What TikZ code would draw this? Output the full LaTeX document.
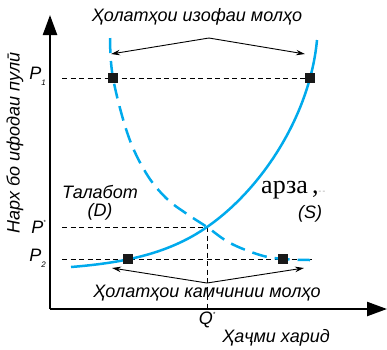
\documentclass[tikz,border=0pt]{standalone}
\usepackage{fontspec}
\setmainfont{Liberation Sans}
\newfontfamily\serifcyr{Liberation Serif}
\usetikzlibrary{arrows.meta}
\definecolor{curveblue}{RGB}{0,170,236}
\begin{document}
\begin{tikzpicture}[x=1pt,y=-1pt,
  lbl/.style={font=\itshape\fontsize{18}{18}\selectfont, inner sep=0pt},
  plbl/.style={font=\itshape\fontsize{18}{18}\selectfont, inner sep=0pt},
  sq/.style={fill=black!90, minimum size=10.5pt, inner sep=0pt},
  guide/.style={dash pattern=on 5pt off 3.5pt, line width=0.8pt},
  axis/.style={line width=2.4pt, -{Triangle[length=20pt,width=14pt]}},
  ptr/.style={line width=0.9pt, -{Stealth[length=9pt,width=5.5pt]}},
  supply/.style={curveblue, line width=2.5pt},
  demand/.style={curveblue, line width=2.5pt, dash pattern=on 15pt off 8pt},
]
\useasboundingbox (0,0) rectangle (387,349);
% axes
\coordinate (O) at (50,309);
\coordinate (ytip) at (50,15);
\coordinate (xtip) at (387,309);
\draw[axis] (O) -- (ytip);
\draw[axis] (O) -- (xtip);
% key positions
\coordinate (a1) at (113,78);
\coordinate (b1) at (310,78);
\coordinate (a2) at (128,259);
\coordinate (b2) at (283,259);
\coordinate (e) at (207,227);
\coordinate (p1s) at (62,78);
\coordinate (pss) at (62,227);
\coordinate (p2s) at (62,259);
\coordinate (p2e) at (312,259);
\coordinate (qb) at (207,309);
\coordinate (s0) at (71,267);
\coordinate (s1) at (317,40);
% guides
\draw[guide] (p1s) -- (b1);
\draw[guide] (pss) -- (e);
\draw[guide] (p2s) -- (p2e);
\draw[guide] (e) -- (qb);
% curves
\draw[supply] (s0) .. controls (120,263) and (167,255) .. (e)
  .. controls (262,189) and (310,115) .. (s1);
\draw[demand] plot[smooth, tension=0.6] coordinates {(110,38) (113,78) (128,135) (146,173) (166,198) (187,214) (207,227) (230,243) (260,255) (283,259) (310,260)};
% squares on top
\node[sq] (sa1) at (a1) {};
\node[sq] (sb1) at (b1) {};
\node[sq] (sa2) at (a2) {};
\node[sq] (sb2) at (b2) {};
% pointer arrows
\coordinate (topapex) at (209,38);
\coordinate (tl) at (111,54);
\coordinate (tr) at (305,54);
\coordinate (botapex) at (207,283);
\coordinate (bl) at (112,268);
\coordinate (br) at (304,268);
\draw[ptr] (topapex) -- (tl);
\draw[ptr] (topapex) -- (tr);
\draw[ptr] (botapex) -- (bl);
\draw[ptr] (botapex) -- (br);
% labels
\node[lbl] (t1) at (197,17) {Ҳолатҳои изофаи молҳо};
\node[lbl] (t2) at (207,293) {Ҳолатҳои камчинии молҳо};
\node[lbl] (t3) at (276,338) {Ҳаҷми харид};
\node[lbl, rotate=90] (t4) at (15,143) {Нарх бо ифодаи пулӣ};
\node[plbl, anchor=east] (P1) at (46,76) {P\raisebox{-0.6ex}{\fontsize{8}{8}\selectfont 1}};
\node[plbl, anchor=east] (Ps) at (46,227) {P\raisebox{0.9ex}{\fontsize{6}{6}\selectfont *}};
\node[plbl, anchor=east] (P2) at (46,258) {P\raisebox{-0.6ex}{\fontsize{8}{8}\selectfont 2}};
\node[plbl] (Qs) at (207,320) {Q\raisebox{0.9ex}{\fontsize{6}{6}\selectfont *}};
\node[lbl] (dem) at (100,192) {Талабот};
\node[lbl] (demD) at (100,212) {(D)};
\node[inner sep=0pt, font=\serifcyr\fontsize{26}{26}\selectfont, anchor=west] (sup) at (261,190) {арза\,,\textcolor{black!40}{\fontsize{8}{8}\selectfont -\,-}};
\node[lbl] (supS) at (310,214) {(S)};
\end{tikzpicture}
\end{document}
